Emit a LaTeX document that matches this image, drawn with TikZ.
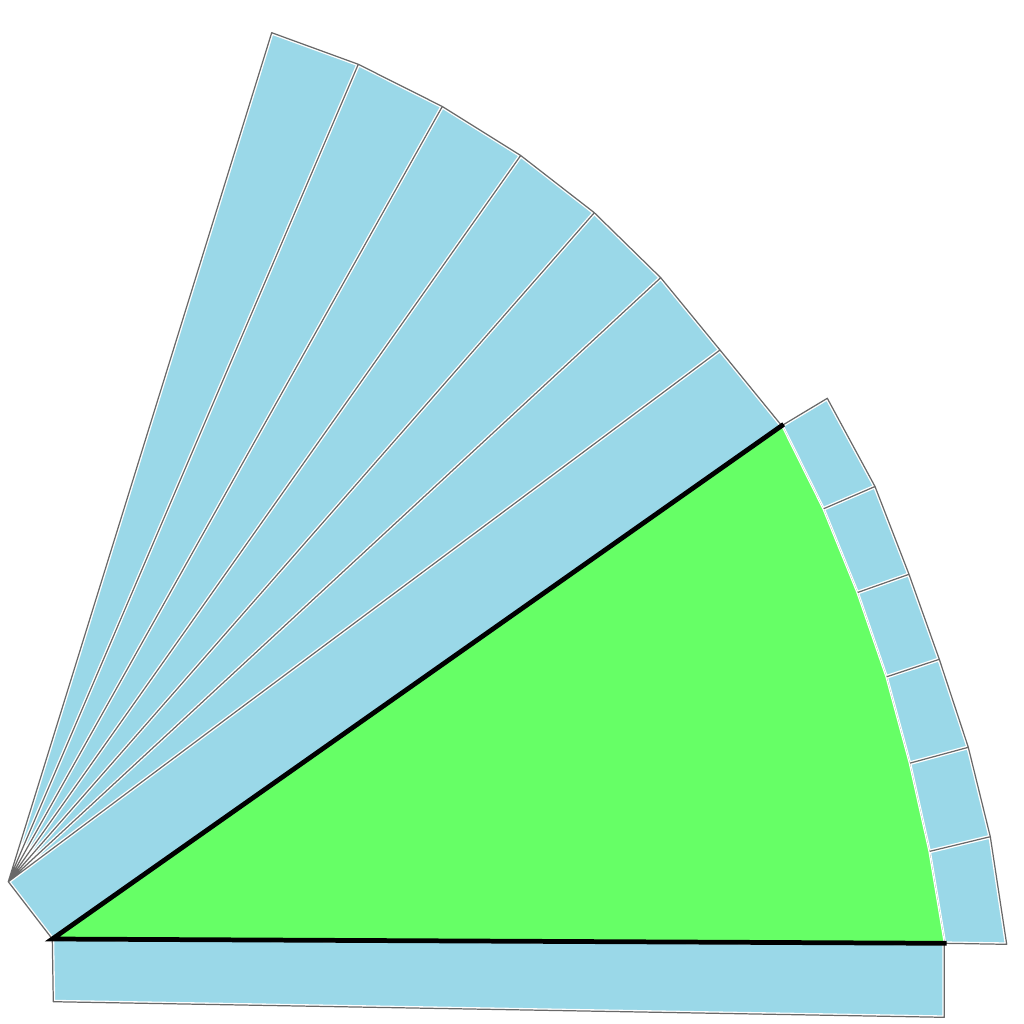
\documentclass[tikz,border=0pt]{standalone}
\definecolor{skyb}{RGB}{154,216,232}
\definecolor{grn}{RGB}{102,255,102}
\definecolor{edgegray}{RGB}{105,105,105}
\tikzset{
  halo/.style={draw=white, line width=1.1pt, line join=round},
  rim/.style={draw=edgegray, line width=0.35pt, line join=round},
  sector/.style={fill=grn, draw=white, line width=0.35pt},
  radius/.style={draw=black, line width=1.35pt, line cap=rect}
}
\begin{document}
\begin{tikzpicture}[x=0.1mm,y=-0.1mm]
\useasboundingbox (0,0) rectangle (1024,1024);
% apex and sector
\coordinate (A) at (52.3,939);
\coordinate (B) at (944.3,943.3);
\coordinate (C) at (781.7,425.7);
\coordinate (D) at (944.3,1017.3);
\coordinate (E) at (53.3,1001.7);
% fan
\coordinate (F) at (8.3,881.7);
\coordinate (P0) at (271.7,32.7);
\coordinate (P1) at (358.3,64.3);
\coordinate (P2) at (442.3,106.5);
\coordinate (P3) at (520.7,155.5);
\coordinate (P4) at (594.3,212.7);
\coordinate (P5) at (660.7,277.7);
\coordinate (P6) at (720,350);
% small blocks along the arc
\coordinate (Q1) at (929,851.5);
\coordinate (Q2) at (909.3,763.3);
\coordinate (Q3) at (886,677);
\coordinate (Q4) at (857,592.7);
\coordinate (Q5) at (823,509);
\coordinate (R0) at (1006.7,944.3);
\coordinate (R1) at (990.3,836.7);
\coordinate (R2) at (968.3,747.3);
\coordinate (R3) at (939.3,659.3);
\coordinate (R4) at (909,574.3);
\coordinate (R5) at (875,486.5);
\coordinate (R6) at (827.3,398.3);
\def\allpieces{
  (F)--(P0)--(P1)--cycle
  (F)--(P1)--(P2)--cycle
  (F)--(P2)--(P3)--cycle
  (F)--(P3)--(P4)--cycle
  (F)--(P4)--(P5)--cycle
  (F)--(P5)--(P6)--cycle
  (F)--(P6)--(C)--(A)--cycle
  (A)--(B)--(D)--(E)--cycle
  (B)--(R0)--(R1)--(Q1)--cycle
  (Q1)--(R1)--(R2)--(Q2)--cycle
  (Q2)--(R2)--(R3)--(Q3)--cycle
  (Q3)--(R3)--(R4)--(Q4)--cycle
  (Q4)--(R4)--(R5)--(Q5)--cycle
  (Q5)--(R5)--(R6)--(C)--cycle
}
\fill[skyb] \allpieces;
\path[halo] \allpieces;
\path[rim] \allpieces;
\path[sector] (A)--(B)--(Q1)--(Q2)--(Q3)--(Q4)--(Q5)--(C)--cycle;
\draw[radius] (B)--(A)--(C);
\end{tikzpicture}
\end{document}
